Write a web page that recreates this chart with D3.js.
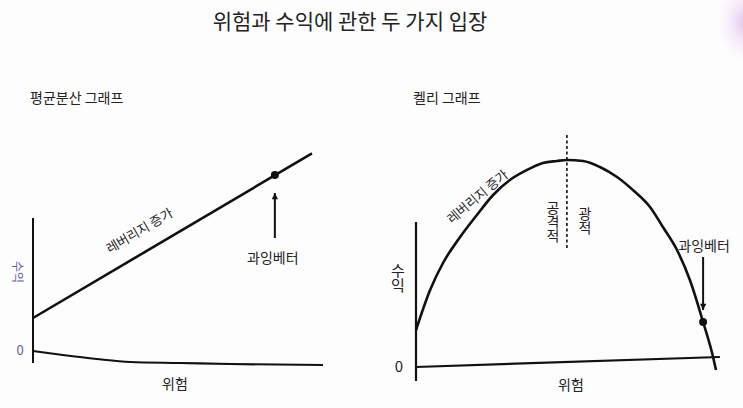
<!DOCTYPE html>
<html><head><meta charset="utf-8">
<script src="https://cdn.jsdelivr.net/npm/d3@7"></script>
<style>
body{margin:0;background:#fff}
svg{display:block}
text{font-family:"Noto Sans CJK KR","Noto Sans",sans-serif;fill:#222}
.vert{writing-mode:vertical-rl;text-orientation:upright}
</style>
</head><body>
<svg id="c" width="743" height="408"></svg>
<script>
// ---- text ----
const chartTitle = "위험과 수익에 관한 두 가지 입장";
const panelTitles = ["평균분산 그래프", "켈리 그래프"];
const riskLabel = "위험";
const returnLabel = "수익";
const zeroLabel = "0";
const leverageLabel = "레버리지 증가";
const overbetLabel = "과잉베터";
const aggressiveLabel = "공격적";
const crazyLabel = "광적";

// ---- mean-variance panel (risk, return) ----
const mvLineRisk = [0, 9.62];
const mvLineReturn = [1.65, 9.88];
const mvFloorRisk = [0, 1.03, 2.2, 3.35, 5.07, 6.8, 10];
const mvFloorReturn = [0, -0.2, -0.4, -0.55, -0.6, -0.65, -0.7];
const mvOverbet = [8.34, 8.8];
const mvAxisReturn = [6.65, -0.6];

// ---- Kelly panel (risk, return) ----
const kellyRisk = [0, 0.47, 0.9, 1.47, 2.03, 2.57, 3.13, 3.7, 4.23, 4.7, 5.03, 5.57, 6.13, 6.7, 7.23, 7.8, 8.23, 8.7, 9.13, 9.57, 9.87, 10];
const kellyReturn = [1.85, 3.85, 5.2, 6.5, 7.6, 8.6, 9.35, 9.85, 10.2, 10.3, 10.35, 10.3, 10.0, 9.5, 8.85, 8.0, 7.0, 5.85, 4.35, 2.25, 0.7, -0.15];
const kellyOptimum = 5.03;
const kellyOverbet = [9.57, 2.25];
const kellyAxisRisk = [0, 10.13];
const kellyAxisReturn = [0, 0.5];
const kellyYAxisReturn = [7.25, -0.7];

const svg = d3.select("#c");
const defs = svg.append("defs");
const rg = defs.append("radialGradient").attr("id","smudge");
rg.append("stop").attr("offset","0%").attr("stop-color","#d9b4ec").attr("stop-opacity",0.8);
rg.append("stop").attr("offset","100%").attr("stop-color","#f3e6f8").attr("stop-opacity",0);
svg.append("rect").attr("width",743).attr("height",408).attr("fill","#fdfdfd");
svg.append("ellipse").attr("cx",745).attr("cy",22).attr("rx",28).attr("ry",40).attr("fill","url(#smudge)");

defs.append("marker").attr("id","ah").attr("markerUnits","userSpaceOnUse")
  .attr("viewBox","0 0 10 16").attr("refX",10).attr("refY",5)
  .attr("markerWidth",16).attr("markerHeight",10).attr("orient","auto")
  .append("path").attr("d","M0,0 L10,5 L0,10 Z").attr("fill","#111");

svg.append("text").attr("x",350).attr("y",20).attr("text-anchor","middle")
  .attr("dominant-baseline","central").attr("font-size",21).text(chartTitle);
svg.append("text").attr("x",30).attr("y",97).attr("dominant-baseline","central")
  .attr("font-size",14).text(panelTitles[0]);
svg.append("text").attr("x",413).attr("y",97).attr("dominant-baseline","central")
  .attr("font-size",14).text(panelTitles[1]);

const ink = "#111";
const lineGen = (xs,ys,xsc,ysc,curve)=>d3.line().x(i=>xsc(xs[i])).y(i=>ysc(ys[i])).curve(curve)(d3.range(xs.length));

// ===== Left panel =====
const xL = d3.scaleLinear().domain([0,10]).range([33,323]);
const yL = d3.scaleLinear().domain([0,10]).range([351,151]);
const gL = svg.append("g");
gL.append("line").attr("x1",xL(0)).attr("x2",xL(0))
  .attr("y1",yL(mvAxisReturn[0])).attr("y2",yL(mvAxisReturn[1]))
  .attr("stroke",ink).attr("stroke-width",2);
gL.append("path").attr("d",lineGen(mvFloorRisk,mvFloorReturn,xL,yL,d3.curveMonotoneX))
  .attr("fill","none").attr("stroke",ink).attr("stroke-width",2.2);
gL.append("path").attr("d",lineGen(mvLineRisk,mvLineReturn,xL,yL,d3.curveLinear))
  .attr("fill","none").attr("stroke",ink).attr("stroke-width",2.6);
gL.append("circle").attr("cx",xL(mvOverbet[0])).attr("cy",yL(mvOverbet[1])).attr("r",4).attr("fill",ink);
gL.append("line").attr("x1",xL(mvOverbet[0])).attr("x2",xL(mvOverbet[0]))
  .attr("y1",yL(5.65)).attr("y2",yL(7.9)).attr("stroke",ink).attr("stroke-width",2)
  .attr("marker-end","url(#ah)");
gL.append("text").attr("x",xL(mvOverbet[0])-2).attr("y",yL(4.7)).attr("text-anchor","middle")
  .attr("dominant-baseline","central").attr("font-size",14).text(overbetLabel);
const angL = Math.atan2(yL(mvLineReturn[1])-yL(mvLineReturn[0]), xL(mvLineRisk[1])-xL(mvLineRisk[0]))*180/Math.PI;
gL.append("text").attr("transform",`translate(139,230) rotate(${angL})`).attr("text-anchor","middle")
  .attr("dominant-baseline","central").attr("font-size",13).text(leverageLabel);
gL.append("text").attr("transform",`translate(18,272) rotate(90)`).attr("text-anchor","middle")
  .attr("dominant-baseline","central").attr("font-size",12).style("fill","#5d5d9e").text(returnLabel);
gL.append("text").attr("x",20).attr("y",yL(0)-2).attr("text-anchor","middle")
  .attr("dominant-baseline","central").attr("font-size",13).style("fill","#5d5d9e").text(zeroLabel);
gL.append("text").attr("x",175).attr("y",383).attr("text-anchor","middle")
  .attr("dominant-baseline","central").attr("font-size",14).text(riskLabel);

// ===== Right panel =====
const xR = d3.scaleLinear().domain([0,10]).range([416,716]);
const yR = d3.scaleLinear().domain([0,10]).range([367,167]);
const gR = svg.append("g");
gR.append("line").attr("x1",xR(0)).attr("x2",xR(0))
  .attr("y1",yR(kellyYAxisReturn[0])).attr("y2",yR(kellyYAxisReturn[1]))
  .attr("stroke",ink).attr("stroke-width",2.2);
gR.append("path").attr("d",lineGen(kellyAxisRisk,kellyAxisReturn,xR,yR,d3.curveLinear))
  .attr("fill","none").attr("stroke",ink).attr("stroke-width",2.2);
gR.append("line").attr("x1",xR(kellyOptimum)).attr("x2",xR(kellyOptimum))
  .attr("y1",yR(11.6)).attr("y2",yR(5.95)).attr("stroke",ink).attr("stroke-width",1.6)
  .attr("stroke-dasharray","3,2.5");
gR.append("path").attr("d",lineGen(kellyRisk,kellyReturn,xR,yR,d3.curveMonotoneX))
  .attr("fill","none").attr("stroke",ink).attr("stroke-width",2.6);
gR.append("circle").attr("cx",xR(kellyOverbet[0])).attr("cy",yR(kellyOverbet[1])).attr("r",4).attr("fill",ink);
gR.append("line").attr("x1",xR(kellyOverbet[0])).attr("x2",xR(kellyOverbet[0]))
  .attr("y1",yR(5.5)).attr("y2",yR(2.85)).attr("stroke",ink).attr("stroke-width",2)
  .attr("marker-end","url(#ah)");
gR.append("text").attr("x",xR(kellyOverbet[0])+1).attr("y",245).attr("text-anchor","middle")
  .attr("dominant-baseline","central").attr("font-size",14).text(overbetLabel);
gR.append("text").attr("transform",`translate(477,196) rotate(-40)`).attr("text-anchor","middle")
  .attr("dominant-baseline","central").attr("font-size",13).text(leverageLabel);
gR.append("text").attr("class","vert").attr("x",xR(kellyOptimum)-14).attr("y",222)
  .attr("text-anchor","middle").attr("font-size",14).text(aggressiveLabel);
gR.append("text").attr("class","vert").attr("x",xR(kellyOptimum)+18).attr("y",221)
  .attr("text-anchor","middle").attr("font-size",14).text(crazyLabel);
gR.append("text").attr("class","vert").attr("x",398).attr("y",278)
  .attr("text-anchor","middle").attr("font-size",15).text(returnLabel);
gR.append("text").attr("x",399).attr("y",yR(0)-2).attr("text-anchor","middle")
  .attr("dominant-baseline","central").attr("font-size",15).text(zeroLabel);
gR.append("text").attr("x",571).attr("y",384).attr("text-anchor","middle")
  .attr("dominant-baseline","central").attr("font-size",14).text(riskLabel);
</script>
</body></html>
